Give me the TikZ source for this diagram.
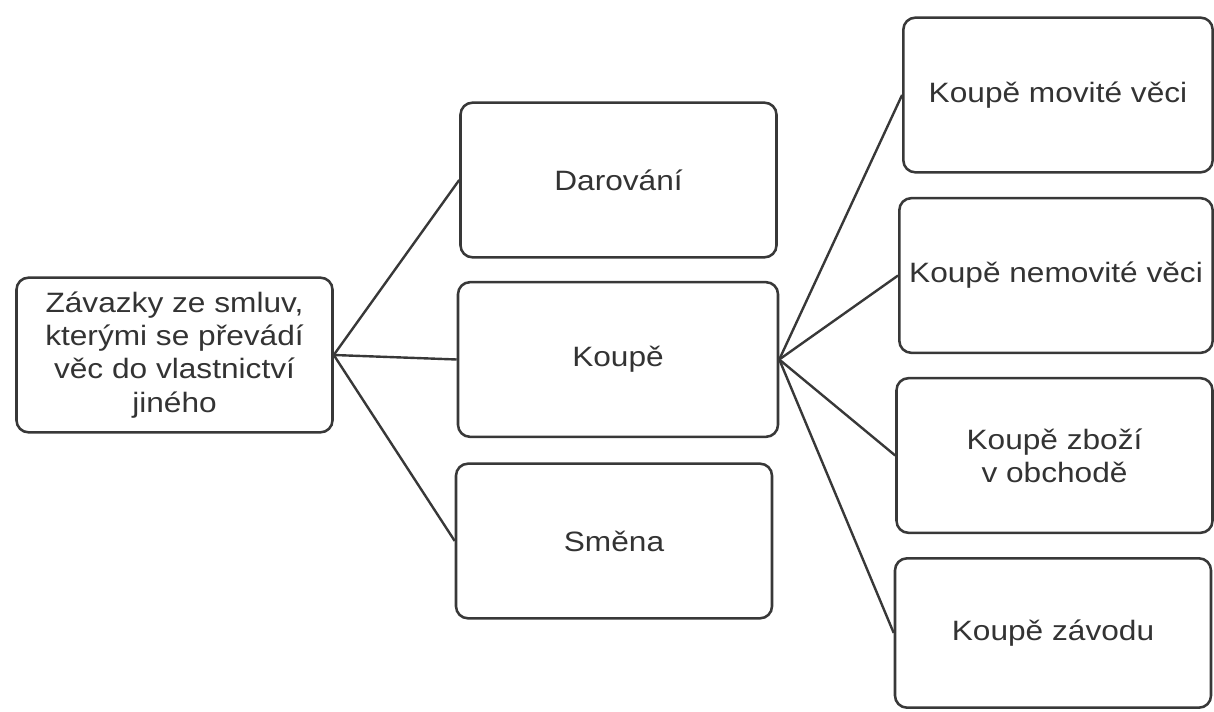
\documentclass[tikz,border=0pt]{standalone}
\usepackage{fontspec}
\setmainfont[FakeStretch=1.13]{Liberation Sans}
\usetikzlibrary{shapes.misc}

\tikzset{
  box/.style={draw=black!78, line width=1.9pt, rounded corners=9pt, minimum width=237pt, minimum height=116pt, inner sep=2pt, align=center, text=black!80, font=\fontsize{21}{24.8}\selectfont},
  link/.style={draw=black!78, line width=1.8pt}
}

\begin{document}
\begin{tikzpicture}[x=0.75pt,y=0.75pt,yscale=-1,xscale=1]
				%set diagram size to the scan: 1214 x 712
				\path (0,0) rectangle (1214,712);
				
				% Text Node
				\draw (174.5,355) node [box] (zavazky) {Závazky ze smluv,\\kterými se převádí\\věc do vlastnictví\\jiného};
				% Text Node
				\draw (618.5,180) node [box] (darovani) {Darování};
				% Text Node
				\draw (618,359.5) node [box, minimum width=240pt] (koupe) {Koupě};
				% Text Node
				\draw (614,541) node [box] (smena) {Směna};
				% Text Node
				\draw (1058,95) node [box, minimum width=232pt] (movite) {Koupě movité věci};
				% Text Node
				\draw (1056,275.5) node [box, minimum width=235pt] (nemovite) {Koupě nemovité věci};
				% Text Node
				\draw (1054.5,455.5) node [box] (zbozi) {Koupě zboží\\v obchodě};
				% Text Node
				\draw (1053,633) node [box, minimum height=112pt] (zavod) {Koupě závodu};
				
				%Straight Lines
				\draw [link] (zavazky.east) -- (darovani.west);
				\draw [link] (zavazky.east) -- (koupe.west);
				\draw [link] (zavazky.east) -- (smena.west);
				%Straight Lines
				\draw [link] (koupe.east) -- (movite.west);
				\draw [link] (koupe.east) -- (nemovite.west);
				\draw [link] (koupe.east) -- (zbozi.west);
				\draw [link] (koupe.east) -- (zavod.west);
				
\end{tikzpicture}
\end{document}
